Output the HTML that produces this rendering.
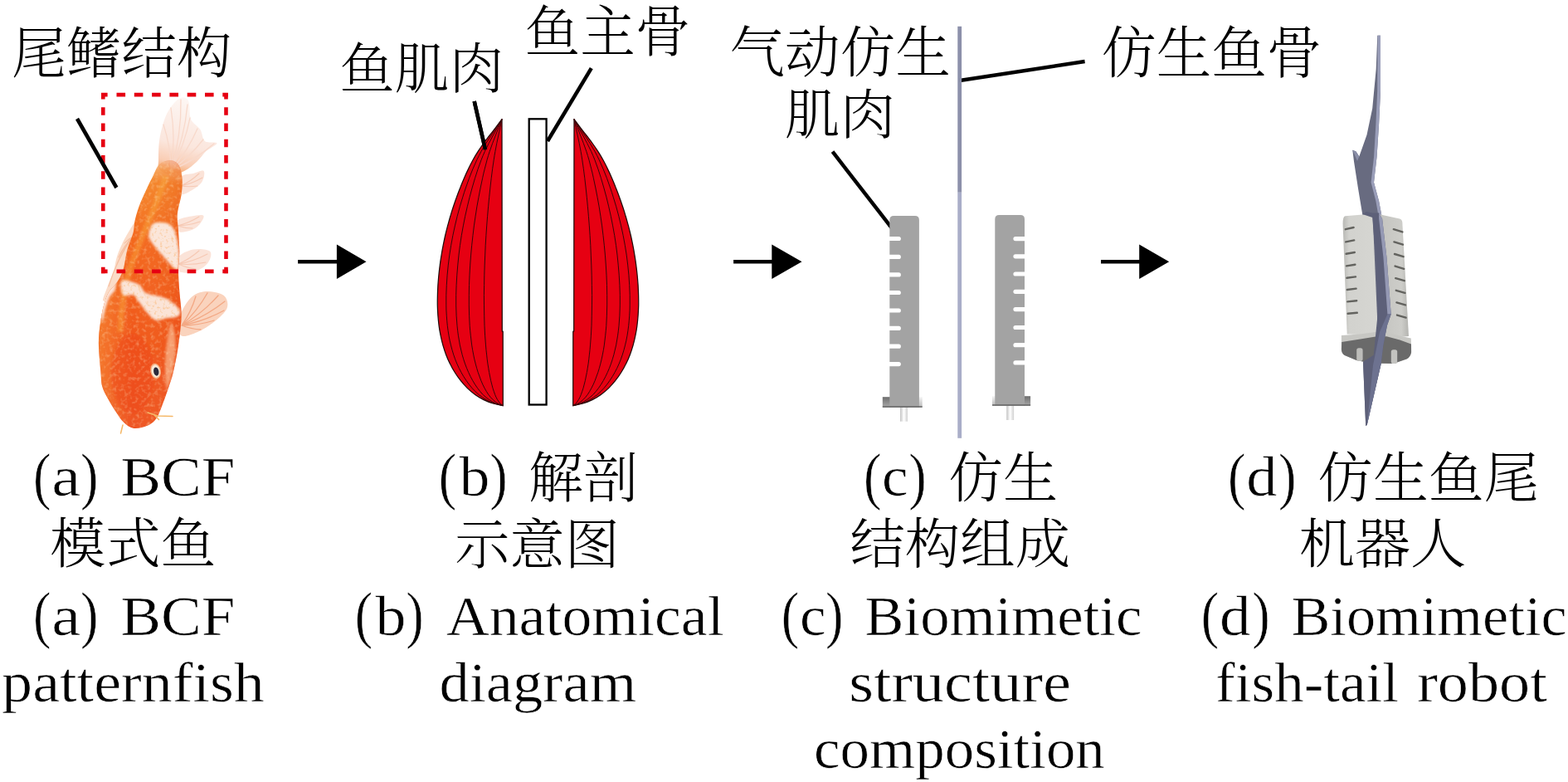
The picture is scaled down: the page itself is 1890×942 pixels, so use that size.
<!DOCTYPE html>
<html lang="zh">
<head>
<meta charset="utf-8">
<title>BCF 模式鱼 — 仿生鱼尾机器人</title>
<style>
html,body{margin:0;padding:0;background:#fff;}
body{width:1890px;height:942px;overflow:hidden;}
svg{display:block;}
text{font-family:"Liberation Serif","Noto Serif CJK SC",serif;fill:#000;}
</style>
</head>
<body>
<svg width="1890" height="942" viewBox="0 0 1890 942">
<rect width="1890" height="942" fill="#fff"/>
<g id="arrows" fill="#000">
<path d="M359.1 312.9H405.9V294.6L441.5 315.2L405.9 335.9V317.5H359.1Z"/>
<path d="M884.1 312.9H930.3V294.6L966.5 315.2L930.3 335.9V317.5H884.1Z"/>
<path d="M1327 312.9H1373.2V294.6L1409.2 315.2L1373.2 335.9V317.5H1327Z"/>
</g>
<g id="fish"><defs><linearGradient id="fbody" gradientUnits="userSpaceOnUse" x1="206" y1="195" x2="165" y2="515"><stop offset="0" stop-color="#f9c08a" stop-opacity="0.35"/><stop offset="0.035" stop-color="#f7a555" stop-opacity="0.9"/><stop offset="0.08" stop-color="#f58a2e"/><stop offset="0.3" stop-color="#f3681f"/><stop offset="0.7" stop-color="#f0561d"/><stop offset="1" stop-color="#ee5424"/></linearGradient><linearGradient id="fside" gradientUnits="userSpaceOnUse" x1="120" y1="0" x2="220" y2="0"><stop offset="0" stop-color="#f9a040" stop-opacity="0.45"/><stop offset="0.4" stop-color="#f9a040" stop-opacity="0"/><stop offset="1" stop-color="#e23c14" stop-opacity="0.3"/></linearGradient><linearGradient id="ftail" gradientUnits="userSpaceOnUse" x1="225" y1="120" x2="203" y2="208"><stop offset="0" stop-color="#fdf6f3"/><stop offset="0.6" stop-color="#fbe6dd"/><stop offset="0.85" stop-color="#f9cdb4"/><stop offset="1" stop-color="#f6a566"/></linearGradient><filter id="fsoft" x="-10%" y="-10%" width="120%" height="120%"><feGaussianBlur stdDeviation="0.7"/></filter><filter id="fsoft2" x="-20%" y="-20%" width="140%" height="140%"><feGaussianBlur stdDeviation="1.4"/></filter><filter id="fscale" x="0" y="0" width="100%" height="100%"><feTurbulence type="fractalNoise" baseFrequency="0.22" numOctaves="2" seed="7" result="n"/><feColorMatrix in="n" type="matrix" values="0 0 0 0 1  0 0 0 0 0.82  0 0 0 0 0.55  0 0 0 2.6 -1.25"/></filter><filter id="fspeck" x="0" y="0" width="100%" height="100%"><feTurbulence type="fractalNoise" baseFrequency="0.3" numOctaves="2" seed="3" result="n"/><feColorMatrix in="n" type="matrix" values="0 0 0 0 0.95  0 0 0 0 0.45  0 0 0 0 0.15  0 0 0 3 -1.6"/><feComposite in2="SourceGraphic" operator="in"/></filter><clipPath id="fclip"><path d="M205.0,193.0 C201.2,193.0 195.5,194.7 192.0,198.0 C188.5,201.3 186.5,208.1 184.0,213.0 C181.5,217.9 179.5,221.6 176.8,227.4 C174.1,233.2 170.3,241.4 167.9,247.8 C165.5,254.2 163.7,260.6 162.5,266.0 C161.3,271.4 162.0,274.7 160.5,280.5 C159.0,286.3 155.4,293.3 153.4,300.7 C151.4,308.1 150.5,318.3 148.4,324.9 C146.3,331.4 143.9,335.5 141.0,340.0 C138.1,344.5 133.7,347.3 131.0,352.0 C128.3,356.7 126.7,361.7 125.0,368.0 C123.3,374.3 121.8,382.3 120.8,390.0 C119.8,397.7 118.8,404.3 118.9,414.0 C119.0,423.7 120.7,439.5 121.4,448.0 C122.1,456.5 121.8,459.9 123.1,465.0 C124.4,470.1 126.4,473.4 129.1,478.5 C131.8,483.6 135.9,490.4 139.3,495.5 C142.7,500.6 145.7,505.7 149.4,509.1 C153.1,512.5 156.5,515.3 161.3,515.9 C166.1,516.5 173.8,514.5 178.3,512.5 C182.8,510.5 185.7,508.0 188.5,504.0 C191.3,500.0 192.8,495.2 195.3,488.7 C197.9,482.2 201.5,471.8 203.8,465.0 C206.1,458.2 207.2,455.1 208.9,448.0 C210.6,440.9 212.6,431.0 214.0,422.5 C215.4,414.0 216.6,404.7 217.4,397.0 C218.2,389.3 218.8,384.1 218.6,376.4 C218.4,368.7 216.9,359.5 216.3,351.0 C215.7,342.5 215.0,333.4 215.0,325.5 C215.0,317.6 216.3,311.7 216.3,303.8 C216.3,295.9 215.4,285.9 215.0,278.3 C214.6,270.7 213.2,265.6 213.8,258.0 C214.5,250.4 218.0,240.2 218.9,232.5 C219.8,224.8 220.0,217.8 219.3,212.0 C218.7,206.2 217.4,201.2 215.0,198.0 C212.6,194.8 208.8,193.0 205.0,193.0Z"/></clipPath></defs><g filter="url(#fsoft)"><path d="M191.0,193.3 C191.1,187.2 190.9,176.1 192.4,167.1 C193.9,158.1 196.7,147.1 200.0,139.5 C203.3,131.9 208.7,125.3 212.4,121.6 C216.1,117.9 219.6,117.2 222.1,117.4 C224.6,117.6 226.4,119.2 227.6,122.9 C228.8,126.6 228.3,135.6 229.0,139.5 C229.7,143.4 229.7,143.6 231.8,146.4 C233.9,149.2 238.9,152.2 241.4,156.1 C243.9,160.0 243.6,167.2 246.9,169.9 C250.2,172.7 261.2,170.5 261.4,172.6 C261.6,174.7 252.3,178.6 248.3,182.3 C244.3,186.0 241.7,190.8 237.3,194.7 C232.9,198.6 227.5,203.4 222.1,206.0 C216.7,208.6 210.0,210.3 205.0,210.0 C200.0,209.7 194.3,206.8 192.0,204.0 C189.7,201.2 190.9,199.5 191.0,193.3Z" fill="url(#ftail)"/><path d="M206.0,205.0Q205.9,176.8 197.0,150.0M206.0,205.0Q212.0,167.5 206.0,130.0M206.0,205.0Q218.8,163.5 218.0,120.0M206.0,205.0Q222.3,167.1 226.0,126.0M206.0,205.0Q222.5,175.3 229.0,142.0M206.0,205.0Q226.0,182.6 238.0,155.0M206.0,205.0Q228.5,189.6 245.0,168.0M206.0,205.0Q234.6,193.2 258.0,173.0M206.0,205.0Q226.7,197.5 244.0,184.0" fill="none" stroke="#f8d9cb" stroke-width="1.3" stroke-linecap="round"/><path d="M219.0,213.0 C221.6,209.0 228.6,210.2 233.0,209.0 C237.4,207.8 243.9,204.2 245.6,206.0 C247.3,207.8 245.9,215.5 243.0,219.7 C240.1,223.9 232.2,228.8 228.0,231.0 C223.8,233.2 219.0,236.0 217.5,233.0 C216.0,230.0 216.4,217.0 219.0,213.0Z" fill="#fbe3d8"/><path d="M218.0,224.0Q230.2,218.3 240.0,209.0M218.0,224.0Q231.8,221.1 244.0,214.0M218.0,224.0Q228.0,225.6 238.0,224.0" fill="none" stroke="#f6c9b4" stroke-width="1.1" stroke-linecap="round"/><path d="M214.0,265.6 C216.9,262.7 225.8,261.4 231.0,260.5 C236.2,259.6 244.2,257.9 245.4,260.0 C246.6,262.1 241.6,269.8 238.0,273.0 C234.4,276.2 228.1,278.2 224.0,279.0 C219.9,279.8 215.2,280.2 213.5,278.0 C211.8,275.8 211.1,268.5 214.0,265.6Z" fill="#fbe3d8"/><path d="M214.0,272.0Q227.9,268.6 240.0,261.0M214.0,272.0Q227.9,271.7 241.0,267.0M214.0,272.0Q222.8,274.9 232.0,275.0" fill="none" stroke="#f6c9b4" stroke-width="1.1" stroke-linecap="round"/><path d="M214.5,310.0 C217.6,305.8 226.4,301.7 232.9,300.5 C239.4,299.3 250.5,300.1 253.3,303.0 C256.1,305.9 253.1,313.8 249.5,318.0 C245.9,322.2 237.8,326.7 232.0,328.0 C226.2,329.3 217.4,329.0 214.5,326.0 C211.6,323.0 211.4,314.2 214.5,310.0Z" fill="#fbe3d8"/><path d="M215.0,318.0Q228.8,312.0 240.0,302.0M215.0,318.0Q233.5,314.8 250.0,306.0M215.0,318.0Q231.7,319.6 248.0,316.0M215.0,318.0Q225.0,322.7 236.0,324.0" fill="none" stroke="#f6c9b4" stroke-width="1.1" stroke-linecap="round"/><path d="M217.0,381.0 C219.1,373.4 225.1,363.6 230.3,358.6 C235.5,353.6 241.6,351.4 248.2,351.0 C254.8,350.6 265.6,352.6 269.8,356.0 C274.0,359.4 275.5,366.0 273.6,371.3 C271.7,376.6 264.2,382.8 258.3,387.6 C252.4,392.4 244.7,397.3 238.0,400.0 C231.3,402.7 221.5,407.2 218.0,404.0 C214.5,400.8 214.9,388.6 217.0,381.0Z" fill="#fad3bd"/><path d="M219.0,392.0Q230.3,375.9 236.0,357.0M219.0,392.0Q237.6,375.0 250.0,353.0M219.0,392.0Q243.9,377.5 263.0,356.0M219.0,392.0Q247.3,381.7 271.0,363.0M219.0,392.0Q245.9,387.1 270.0,374.0M219.0,392.0Q239.0,392.1 258.0,386.0M219.0,392.0Q230.1,396.3 242.0,397.0" fill="none" stroke="#f3a884" stroke-width="1.3" stroke-linecap="round"/><path d="M163.0,268.0 C161.8,267.7 159.5,272.0 157.0,276.0 C154.5,280.0 150.7,286.5 148.0,292.0 C145.3,297.5 142.8,303.5 141.0,309.0 C139.2,314.5 139.1,319.1 137.3,324.9 C135.5,330.7 132.2,337.8 130.0,344.0 C127.8,350.2 123.5,360.0 124.0,362.0 C124.5,364.0 129.3,360.0 133.0,356.0 C136.7,352.0 142.8,344.0 146.0,338.0 C149.2,332.0 150.0,326.7 152.0,320.0 C154.0,313.3 156.0,305.0 158.0,298.0 C160.0,291.0 163.2,283.0 164.0,278.0 C164.8,273.0 164.2,268.3 163.0,268.0Z" fill="#fbdcc8"/><path d="M160.0,285.0Q154.4,288.2 150.0,293.0M160.0,285.0Q149.5,296.1 143.0,310.0M160.0,285.0Q145.7,303.7 138.0,326.0M160.0,285.0Q140.7,312.7 131.0,345.0" fill="none" stroke="#f5bfa0" stroke-width="1.1" stroke-linecap="round"/><path d="M205.0,193.0 C201.2,193.0 195.5,194.7 192.0,198.0 C188.5,201.3 186.5,208.1 184.0,213.0 C181.5,217.9 179.5,221.6 176.8,227.4 C174.1,233.2 170.3,241.4 167.9,247.8 C165.5,254.2 163.7,260.6 162.5,266.0 C161.3,271.4 162.0,274.7 160.5,280.5 C159.0,286.3 155.4,293.3 153.4,300.7 C151.4,308.1 150.5,318.3 148.4,324.9 C146.3,331.4 143.9,335.5 141.0,340.0 C138.1,344.5 133.7,347.3 131.0,352.0 C128.3,356.7 126.7,361.7 125.0,368.0 C123.3,374.3 121.8,382.3 120.8,390.0 C119.8,397.7 118.8,404.3 118.9,414.0 C119.0,423.7 120.7,439.5 121.4,448.0 C122.1,456.5 121.8,459.9 123.1,465.0 C124.4,470.1 126.4,473.4 129.1,478.5 C131.8,483.6 135.9,490.4 139.3,495.5 C142.7,500.6 145.7,505.7 149.4,509.1 C153.1,512.5 156.5,515.3 161.3,515.9 C166.1,516.5 173.8,514.5 178.3,512.5 C182.8,510.5 185.7,508.0 188.5,504.0 C191.3,500.0 192.8,495.2 195.3,488.7 C197.9,482.2 201.5,471.8 203.8,465.0 C206.1,458.2 207.2,455.1 208.9,448.0 C210.6,440.9 212.6,431.0 214.0,422.5 C215.4,414.0 216.6,404.7 217.4,397.0 C218.2,389.3 218.8,384.1 218.6,376.4 C218.4,368.7 216.9,359.5 216.3,351.0 C215.7,342.5 215.0,333.4 215.0,325.5 C215.0,317.6 216.3,311.7 216.3,303.8 C216.3,295.9 215.4,285.9 215.0,278.3 C214.6,270.7 213.2,265.6 213.8,258.0 C214.5,250.4 218.0,240.2 218.9,232.5 C219.8,224.8 220.0,217.8 219.3,212.0 C218.7,206.2 217.4,201.2 215.0,198.0 C212.6,194.8 208.8,193.0 205.0,193.0Z" fill="url(#fbody)"/><path d="M205.0,193.0 C201.2,193.0 195.5,194.7 192.0,198.0 C188.5,201.3 186.5,208.1 184.0,213.0 C181.5,217.9 179.5,221.6 176.8,227.4 C174.1,233.2 170.3,241.4 167.9,247.8 C165.5,254.2 163.7,260.6 162.5,266.0 C161.3,271.4 162.0,274.7 160.5,280.5 C159.0,286.3 155.4,293.3 153.4,300.7 C151.4,308.1 150.5,318.3 148.4,324.9 C146.3,331.4 143.9,335.5 141.0,340.0 C138.1,344.5 133.7,347.3 131.0,352.0 C128.3,356.7 126.7,361.7 125.0,368.0 C123.3,374.3 121.8,382.3 120.8,390.0 C119.8,397.7 118.8,404.3 118.9,414.0 C119.0,423.7 120.7,439.5 121.4,448.0 C122.1,456.5 121.8,459.9 123.1,465.0 C124.4,470.1 126.4,473.4 129.1,478.5 C131.8,483.6 135.9,490.4 139.3,495.5 C142.7,500.6 145.7,505.7 149.4,509.1 C153.1,512.5 156.5,515.3 161.3,515.9 C166.1,516.5 173.8,514.5 178.3,512.5 C182.8,510.5 185.7,508.0 188.5,504.0 C191.3,500.0 192.8,495.2 195.3,488.7 C197.9,482.2 201.5,471.8 203.8,465.0 C206.1,458.2 207.2,455.1 208.9,448.0 C210.6,440.9 212.6,431.0 214.0,422.5 C215.4,414.0 216.6,404.7 217.4,397.0 C218.2,389.3 218.8,384.1 218.6,376.4 C218.4,368.7 216.9,359.5 216.3,351.0 C215.7,342.5 215.0,333.4 215.0,325.5 C215.0,317.6 216.3,311.7 216.3,303.8 C216.3,295.9 215.4,285.9 215.0,278.3 C214.6,270.7 213.2,265.6 213.8,258.0 C214.5,250.4 218.0,240.2 218.9,232.5 C219.8,224.8 220.0,217.8 219.3,212.0 C218.7,206.2 217.4,201.2 215.0,198.0 C212.6,194.8 208.8,193.0 205.0,193.0Z" fill="url(#fside)"/></g><g clip-path="url(#fclip)"><g filter="url(#fsoft2)"><ellipse cx="160" cy="450" rx="26" ry="48" fill="#ed4818" opacity="0.45"/><path d="M200,212 C188,250 170,285 158,320 C150,345 146,372 145,400" fill="none" stroke="#fbb040" stroke-width="7" opacity="0.4"/><path d="M206,388 C215,402 213,440 201,470 C197,450 199,412 206,388Z" fill="#f9b48a" opacity="0.75"/></g><rect x="115" y="190" width="110" height="335" filter="url(#fscale)" opacity="0.32"/><g filter="url(#fsoft2)"><path d="M186.7,268.4 C190.7,267.4 200.5,267.4 204.9,270.4 C209.3,273.4 211.2,279.9 213.0,286.6 C214.8,293.3 216.0,304.4 216.0,310.8 C216.0,317.2 216.2,325.2 213.0,324.9 C209.8,324.5 202.2,314.8 196.8,308.7 C191.4,302.6 183.4,294.0 180.7,288.6 C178.0,283.2 179.7,279.9 180.7,276.5 C181.7,273.1 182.7,269.4 186.7,268.4Z" fill="#fbe6da"/><path d="M148.2,337.5 C151.8,336.9 162.6,340.1 167.3,342.7 C172.0,345.3 170.9,350.1 176.2,352.9 C181.5,355.7 192.6,356.1 199.2,359.3 C205.8,362.5 213.1,368.4 215.7,372.0 C218.2,375.6 217.2,379.1 214.5,381.0 C211.8,382.9 203.4,382.7 199.2,383.5 C194.9,384.3 192.0,386.4 189.0,386.0 C186.0,385.6 183.9,383.3 181.3,381.0 C178.8,378.7 176.2,375.2 173.7,372.0 C171.1,368.8 168.1,364.6 166.0,361.8 C163.9,359.1 163.8,356.6 161.0,355.5 C158.2,354.4 151.6,357.1 149.0,355.5 C146.4,353.9 145.8,349.0 145.7,346.0 C145.6,343.0 144.6,338.1 148.2,337.5Z" fill="#fbe4d7"/><path d="M131.0,333.0 C133.1,332.2 138.3,335.2 139.5,338.0 C140.7,340.8 139.2,346.7 138.0,350.0 C136.8,353.3 133.8,354.3 132.0,358.0 C130.2,361.7 128.4,367.0 127.0,372.0 C125.6,377.0 124.3,387.3 123.5,388.0 C122.7,388.7 121.8,381.3 122.0,376.0 C122.2,370.7 123.7,361.5 124.5,356.0 C125.3,350.5 125.9,346.8 127.0,343.0 C128.1,339.2 128.9,333.8 131.0,333.0Z" fill="#fbe3d8"/></g><g filter="url(#fspeck)" opacity="0.6"><path d="M186.7,268.4 C190.7,267.4 200.5,267.4 204.9,270.4 C209.3,273.4 211.2,279.9 213.0,286.6 C214.8,293.3 216.0,304.4 216.0,310.8 C216.0,317.2 216.2,325.2 213.0,324.9 C209.8,324.5 202.2,314.8 196.8,308.7 C191.4,302.6 183.4,294.0 180.7,288.6 C178.0,283.2 179.7,279.9 180.7,276.5 C181.7,273.1 182.7,269.4 186.7,268.4Z"/><path d="M148.2,337.5 C151.8,336.9 162.6,340.1 167.3,342.7 C172.0,345.3 170.9,350.1 176.2,352.9 C181.5,355.7 192.6,356.1 199.2,359.3 C205.8,362.5 213.1,368.4 215.7,372.0 C218.2,375.6 217.2,379.1 214.5,381.0 C211.8,382.9 203.4,382.7 199.2,383.5 C194.9,384.3 192.0,386.4 189.0,386.0 C186.0,385.6 183.9,383.3 181.3,381.0 C178.8,378.7 176.2,375.2 173.7,372.0 C171.1,368.8 168.1,364.6 166.0,361.8 C163.9,359.1 163.8,356.6 161.0,355.5 C158.2,354.4 151.6,357.1 149.0,355.5 C146.4,353.9 145.8,349.0 145.7,346.0 C145.6,343.0 144.6,338.1 148.2,337.5Z"/></g></g><ellipse cx="187.6" cy="447" rx="6.3" ry="9.4" fill="#f5b083" transform="rotate(-10 187.6 447)"/><ellipse cx="187.6" cy="447" rx="5" ry="7.7" fill="#f7ead8" transform="rotate(-10 187.6 447)"/><ellipse cx="188.3" cy="447.6" rx="3.1" ry="5.2" fill="#2a2a3a" transform="rotate(-10 188.3 447.6)"/><circle cx="145" cy="384" r="1.2" fill="#4a4a4a" opacity="0"/><path d="M178,497 L190,501 L208,501.5 M186,500 L191.5,505.5 M148,512 L145.5,522" fill="none" stroke="#f5b868" stroke-width="1.5" stroke-linecap="round"/></g>
<g id="tail-box" fill="none" stroke="#e60012" stroke-width="4.6">
<path d="M122,114.1H274.9" stroke-dasharray="7.6 10.9 10.6 10.7 10.6 10.7 10.6 10.7 10.6 10.7 10.6 10.7 10.6 10.7 20"/>
<path d="M122,326.9H274.9" stroke-dasharray="7.6 10.9 10.6 10.7 10.6 10.7 10.6 10.7 10.6 10.7 10.6 10.7 10.6 10.7 20"/>
<path d="M124.3,112V329.2" stroke-dasharray="7.5 9.8 9.5 9.75 9.5 9.75 9.5 9.75 9.5 9.75 9.5 9.75 9.5 9.75 9.5 9.75 9.5 9.75 9.5 9.75 9.5 9.75 20"/>
<path d="M272.5,112V329.2" stroke-dasharray="7.5 9.8 9.5 9.75 9.5 9.75 9.5 9.75 9.5 9.75 9.5 9.75 9.5 9.75 9.5 9.75 9.5 9.75 9.5 9.75 9.5 9.75 20"/>
</g>
<line id="leader-a" x1="93" y1="143" x2="140.4" y2="226" stroke="#000" stroke-width="4.6"/>
<g id="muscle"><line x1="571.7" y1="122" x2="585" y2="180.3" stroke="#000" stroke-width="4.5"/><g id="muscle-left"><path d="M605.0,143.6 C603.8,145.2 600.1,150.2 597.7,153.4 C595.2,156.7 592.7,159.8 590.2,163.0 C587.8,166.2 585.3,169.3 583.0,172.5 C580.6,175.8 578.3,179.0 576.2,182.4 C574.0,185.8 572.0,189.2 570.0,192.8 C568.1,196.3 566.2,199.9 564.5,203.6 C562.7,207.2 561.0,211.0 559.4,214.7 C557.8,218.4 556.2,222.2 554.8,226.0 C553.3,229.7 551.8,233.5 550.5,237.3 C549.1,241.1 547.8,244.9 546.5,248.8 C545.2,252.6 544.0,256.4 542.9,260.3 C541.7,264.1 540.7,268.0 539.6,271.9 C538.6,275.7 537.6,279.6 536.7,283.5 C535.8,287.4 535.0,291.4 534.2,295.3 C533.4,299.2 532.7,303.2 532.1,307.1 C531.4,311.1 530.8,315.1 530.3,319.1 C529.8,323.1 529.3,327.1 528.9,331.2 C528.5,335.2 528.2,339.3 527.9,343.4 C527.7,347.4 527.5,351.5 527.4,355.6 C527.3,359.7 527.2,363.8 527.3,367.9 C527.4,372.0 527.6,376.1 527.9,380.2 C528.2,384.2 528.6,388.3 529.1,392.3 C529.6,396.3 530.3,400.3 531.1,404.2 C531.9,408.2 532.8,412.1 533.9,415.9 C535.0,419.7 536.2,423.5 537.6,427.2 C539.0,430.9 540.6,434.6 542.4,438.1 C544.1,441.7 546.0,445.2 548.2,448.5 C550.3,451.9 552.6,455.2 555.2,458.4 C557.7,461.6 560.5,464.7 563.4,467.6 C566.3,470.4 569.5,473.1 572.8,475.5 C576.0,477.8 579.5,479.9 583.1,481.6 C586.7,483.4 590.5,484.8 594.3,486.0 C598.2,487.1 604.3,488.2 606.3,488.6 L606.2,399.2 L605.3,399.2 L605.0,143.6 Z" fill="#e60012" stroke="#1e0a0a" stroke-width="1.25" stroke-linejoin="round"/><path d="M605.0,143.6 C603.9,145.2 600.8,150.2 598.7,153.4 C596.5,156.7 594.3,159.8 592.2,163.0 C590.1,166.2 587.9,169.3 585.9,172.5 C583.9,175.8 581.9,179.0 580.0,182.4 C578.2,185.8 576.4,189.2 574.7,192.8 C573.0,196.3 571.4,199.9 569.9,203.6 C568.4,207.2 566.9,211.0 565.5,214.7 C564.1,218.4 562.8,222.2 561.5,226.0 C560.2,229.7 558.9,233.5 557.8,237.3 C556.6,241.1 555.4,244.9 554.3,248.8 C553.2,252.6 552.2,256.4 551.2,260.3 C550.2,264.1 549.3,268.0 548.4,271.9 C547.5,275.7 546.7,279.6 545.9,283.5 C545.1,287.4 544.4,291.4 543.7,295.3 C543.0,299.2 542.4,303.2 541.8,307.1 C541.3,311.1 540.8,315.1 540.3,319.1 C539.9,323.1 539.5,327.1 539.1,331.2 C538.8,335.2 538.5,339.3 538.3,343.4 C538.1,347.4 537.9,351.5 537.8,355.6 C537.7,359.7 537.7,363.8 537.8,367.9 C537.8,372.0 538.0,376.1 538.3,380.2 C538.5,384.2 538.9,388.3 539.3,392.3 C539.8,396.3 540.3,400.3 541.0,404.2 C541.7,408.2 542.5,412.1 543.5,415.9 C544.4,419.7 545.5,423.5 546.7,427.2 C547.9,430.9 549.3,434.6 550.8,438.1 C552.4,441.7 554.0,445.2 555.9,448.5 C557.7,451.9 559.8,455.2 562.0,458.4 C564.2,461.6 566.5,464.7 569.1,467.6 C571.6,470.4 574.4,473.1 577.2,475.5 C580.1,477.8 583.1,479.9 586.2,481.6 C589.3,483.4 592.6,484.8 595.9,486.0 C599.3,487.1 604.6,488.2 606.3,488.6" fill="none" stroke="#3a0508" stroke-width="1.0"/><path d="M605.0,143.6 C604.1,145.2 601.5,150.2 599.8,153.4 C598.0,156.7 596.2,159.8 594.4,163.0 C592.7,166.2 590.9,169.3 589.3,172.5 C587.6,175.8 586.0,179.0 584.4,182.4 C582.9,185.8 581.4,189.2 580.0,192.8 C578.7,196.3 577.3,199.9 576.1,203.6 C574.8,207.2 573.6,211.0 572.5,214.7 C571.3,218.4 570.2,222.2 569.2,226.0 C568.1,229.7 567.1,233.5 566.1,237.3 C565.1,241.1 564.2,244.9 563.3,248.8 C562.4,252.6 561.5,256.4 560.7,260.3 C559.9,264.1 559.1,268.0 558.4,271.9 C557.7,275.7 557.0,279.6 556.3,283.5 C555.7,287.4 555.1,291.4 554.5,295.3 C554.0,299.2 553.5,303.2 553.0,307.1 C552.6,311.1 552.1,315.1 551.8,319.1 C551.4,323.1 551.1,327.1 550.8,331.2 C550.5,335.2 550.3,339.3 550.1,343.4 C549.9,347.4 549.8,351.5 549.7,355.6 C549.7,359.7 549.6,363.8 549.7,367.9 C549.8,372.0 549.9,376.1 550.1,380.2 C550.3,384.2 550.6,388.3 551.0,392.3 C551.4,396.3 551.8,400.3 552.4,404.2 C553.0,408.2 553.7,412.1 554.4,415.9 C555.2,419.7 556.1,423.5 557.1,427.2 C558.1,430.9 559.3,434.6 560.5,438.1 C561.8,441.7 563.2,445.2 564.7,448.5 C566.2,451.9 567.9,455.2 569.7,458.4 C571.5,461.6 573.5,464.7 575.6,467.6 C577.7,470.4 579.9,473.1 582.3,475.5 C584.7,477.8 587.1,479.9 589.7,481.6 C592.3,483.4 595.0,484.8 597.7,486.0 C600.5,487.1 604.9,488.2 606.3,488.6" fill="none" stroke="#3a0508" stroke-width="1.0"/><path d="M605.0,143.6 C604.4,145.2 602.5,150.2 601.2,153.4 C600.0,156.7 598.7,159.8 597.4,163.0 C596.1,166.2 594.9,169.3 593.7,172.5 C592.5,175.8 591.3,179.0 590.2,182.4 C589.1,185.8 588.0,189.2 587.0,192.8 C586.0,196.3 585.1,199.9 584.2,203.6 C583.2,207.2 582.4,211.0 581.6,214.7 C580.7,218.4 579.9,222.2 579.2,226.0 C578.4,229.7 577.7,233.5 577.0,237.3 C576.3,241.1 575.6,244.9 574.9,248.8 C574.3,252.6 573.7,256.4 573.1,260.3 C572.5,264.1 572.0,268.0 571.4,271.9 C570.9,275.7 570.4,279.6 570.0,283.5 C569.5,287.4 569.1,291.4 568.7,295.3 C568.3,299.2 567.9,303.2 567.6,307.1 C567.3,311.1 567.0,315.1 566.7,319.1 C566.4,323.1 566.2,327.1 566.0,331.2 C565.8,335.2 565.6,339.3 565.5,343.4 C565.4,347.4 565.3,351.5 565.3,355.6 C565.2,359.7 565.2,363.8 565.3,367.9 C565.3,372.0 565.4,376.1 565.6,380.2 C565.7,384.2 565.9,388.3 566.2,392.3 C566.5,396.3 566.8,400.3 567.3,404.2 C567.7,408.2 568.2,412.1 568.7,415.9 C569.3,419.7 569.9,423.5 570.7,427.2 C571.4,430.9 572.2,434.6 573.2,438.1 C574.1,441.7 575.1,445.2 576.2,448.5 C577.3,451.9 578.5,455.2 579.8,458.4 C581.1,461.6 582.6,464.7 584.1,467.6 C585.6,470.4 587.2,473.1 588.9,475.5 C590.6,477.8 592.4,479.9 594.3,481.6 C596.2,483.4 598.1,484.8 600.1,486.0 C602.1,487.1 605.3,488.2 606.3,488.6" fill="none" stroke="#3a0508" stroke-width="1.0"/><path d="M605.0,143.6 C604.7,145.2 603.6,150.2 602.9,153.4 C602.2,156.7 601.5,159.8 600.8,163.0 C600.1,166.2 599.5,169.3 598.8,172.5 C598.1,175.8 597.5,179.0 596.9,182.4 C596.3,185.8 595.7,189.2 595.2,192.8 C594.6,196.3 594.1,199.9 593.6,203.6 C593.1,207.2 592.6,211.0 592.2,214.7 C591.7,218.4 591.3,222.2 590.9,226.0 C590.5,229.7 590.1,233.5 589.7,237.3 C589.3,241.1 589.0,244.9 588.6,248.8 C588.3,252.6 587.9,256.4 587.6,260.3 C587.3,264.1 587.0,268.0 586.7,271.9 C586.4,275.7 586.2,279.6 585.9,283.5 C585.7,287.4 585.4,291.4 585.2,295.3 C585.0,299.2 584.8,303.2 584.7,307.1 C584.5,311.1 584.3,315.1 584.2,319.1 C584.0,323.1 583.9,327.1 583.8,331.2 C583.7,335.2 583.6,339.3 583.6,343.4 C583.5,347.4 583.5,351.5 583.4,355.6 C583.4,359.7 583.4,363.8 583.5,367.9 C583.5,372.0 583.6,376.1 583.7,380.2 C583.8,384.2 583.9,388.3 584.0,392.3 C584.2,396.3 584.4,400.3 584.6,404.2 C584.9,408.2 585.1,412.1 585.5,415.9 C585.8,419.7 586.1,423.5 586.6,427.2 C587.0,430.9 587.4,434.6 587.9,438.1 C588.5,441.7 589.0,445.2 589.6,448.5 C590.2,451.9 590.9,455.2 591.6,458.4 C592.4,461.6 593.2,464.7 594.0,467.6 C594.9,470.4 595.8,473.1 596.7,475.5 C597.6,477.8 598.6,479.9 599.7,481.6 C600.7,483.4 601.8,484.8 602.9,486.0 C604.0,487.1 605.7,488.2 606.3,488.6" fill="none" stroke="#3a0508" stroke-width="1.0"/></g><g transform="translate(1297,0) scale(-1,1)"><g id="muscle-right"><path d="M605.0,143.6 C603.8,145.2 600.1,150.2 597.7,153.4 C595.2,156.7 592.7,159.8 590.2,163.0 C587.8,166.2 585.3,169.3 583.0,172.5 C580.6,175.8 578.3,179.0 576.2,182.4 C574.0,185.8 572.0,189.2 570.0,192.8 C568.1,196.3 566.2,199.9 564.5,203.6 C562.7,207.2 561.0,211.0 559.4,214.7 C557.8,218.4 556.2,222.2 554.8,226.0 C553.3,229.7 551.8,233.5 550.5,237.3 C549.1,241.1 547.8,244.9 546.5,248.8 C545.2,252.6 544.0,256.4 542.9,260.3 C541.7,264.1 540.7,268.0 539.6,271.9 C538.6,275.7 537.6,279.6 536.7,283.5 C535.8,287.4 535.0,291.4 534.2,295.3 C533.4,299.2 532.7,303.2 532.1,307.1 C531.4,311.1 530.8,315.1 530.3,319.1 C529.8,323.1 529.3,327.1 528.9,331.2 C528.5,335.2 528.2,339.3 527.9,343.4 C527.7,347.4 527.5,351.5 527.4,355.6 C527.3,359.7 527.2,363.8 527.3,367.9 C527.4,372.0 527.6,376.1 527.9,380.2 C528.2,384.2 528.6,388.3 529.1,392.3 C529.6,396.3 530.3,400.3 531.1,404.2 C531.9,408.2 532.8,412.1 533.9,415.9 C535.0,419.7 536.2,423.5 537.6,427.2 C539.0,430.9 540.6,434.6 542.4,438.1 C544.1,441.7 546.0,445.2 548.2,448.5 C550.3,451.9 552.6,455.2 555.2,458.4 C557.7,461.6 560.5,464.7 563.4,467.6 C566.3,470.4 569.5,473.1 572.8,475.5 C576.0,477.8 579.5,479.9 583.1,481.6 C586.7,483.4 590.5,484.8 594.3,486.0 C598.2,487.1 604.3,488.2 606.3,488.6 L606.2,399.2 L605.3,399.2 L605.0,143.6 Z" fill="#e60012" stroke="#1e0a0a" stroke-width="1.25" stroke-linejoin="round"/><path d="M605.0,143.6 C603.9,145.2 600.8,150.2 598.7,153.4 C596.5,156.7 594.3,159.8 592.2,163.0 C590.1,166.2 587.9,169.3 585.9,172.5 C583.9,175.8 581.9,179.0 580.0,182.4 C578.2,185.8 576.4,189.2 574.7,192.8 C573.0,196.3 571.4,199.9 569.9,203.6 C568.4,207.2 566.9,211.0 565.5,214.7 C564.1,218.4 562.8,222.2 561.5,226.0 C560.2,229.7 558.9,233.5 557.8,237.3 C556.6,241.1 555.4,244.9 554.3,248.8 C553.2,252.6 552.2,256.4 551.2,260.3 C550.2,264.1 549.3,268.0 548.4,271.9 C547.5,275.7 546.7,279.6 545.9,283.5 C545.1,287.4 544.4,291.4 543.7,295.3 C543.0,299.2 542.4,303.2 541.8,307.1 C541.3,311.1 540.8,315.1 540.3,319.1 C539.9,323.1 539.5,327.1 539.1,331.2 C538.8,335.2 538.5,339.3 538.3,343.4 C538.1,347.4 537.9,351.5 537.8,355.6 C537.7,359.7 537.7,363.8 537.8,367.9 C537.8,372.0 538.0,376.1 538.3,380.2 C538.5,384.2 538.9,388.3 539.3,392.3 C539.8,396.3 540.3,400.3 541.0,404.2 C541.7,408.2 542.5,412.1 543.5,415.9 C544.4,419.7 545.5,423.5 546.7,427.2 C547.9,430.9 549.3,434.6 550.8,438.1 C552.4,441.7 554.0,445.2 555.9,448.5 C557.7,451.9 559.8,455.2 562.0,458.4 C564.2,461.6 566.5,464.7 569.1,467.6 C571.6,470.4 574.4,473.1 577.2,475.5 C580.1,477.8 583.1,479.9 586.2,481.6 C589.3,483.4 592.6,484.8 595.9,486.0 C599.3,487.1 604.6,488.2 606.3,488.6" fill="none" stroke="#3a0508" stroke-width="1.0"/><path d="M605.0,143.6 C604.1,145.2 601.5,150.2 599.8,153.4 C598.0,156.7 596.2,159.8 594.4,163.0 C592.7,166.2 590.9,169.3 589.3,172.5 C587.6,175.8 586.0,179.0 584.4,182.4 C582.9,185.8 581.4,189.2 580.0,192.8 C578.7,196.3 577.3,199.9 576.1,203.6 C574.8,207.2 573.6,211.0 572.5,214.7 C571.3,218.4 570.2,222.2 569.2,226.0 C568.1,229.7 567.1,233.5 566.1,237.3 C565.1,241.1 564.2,244.9 563.3,248.8 C562.4,252.6 561.5,256.4 560.7,260.3 C559.9,264.1 559.1,268.0 558.4,271.9 C557.7,275.7 557.0,279.6 556.3,283.5 C555.7,287.4 555.1,291.4 554.5,295.3 C554.0,299.2 553.5,303.2 553.0,307.1 C552.6,311.1 552.1,315.1 551.8,319.1 C551.4,323.1 551.1,327.1 550.8,331.2 C550.5,335.2 550.3,339.3 550.1,343.4 C549.9,347.4 549.8,351.5 549.7,355.6 C549.7,359.7 549.6,363.8 549.7,367.9 C549.8,372.0 549.9,376.1 550.1,380.2 C550.3,384.2 550.6,388.3 551.0,392.3 C551.4,396.3 551.8,400.3 552.4,404.2 C553.0,408.2 553.7,412.1 554.4,415.9 C555.2,419.7 556.1,423.5 557.1,427.2 C558.1,430.9 559.3,434.6 560.5,438.1 C561.8,441.7 563.2,445.2 564.7,448.5 C566.2,451.9 567.9,455.2 569.7,458.4 C571.5,461.6 573.5,464.7 575.6,467.6 C577.7,470.4 579.9,473.1 582.3,475.5 C584.7,477.8 587.1,479.9 589.7,481.6 C592.3,483.4 595.0,484.8 597.7,486.0 C600.5,487.1 604.9,488.2 606.3,488.6" fill="none" stroke="#3a0508" stroke-width="1.0"/><path d="M605.0,143.6 C604.4,145.2 602.5,150.2 601.2,153.4 C600.0,156.7 598.7,159.8 597.4,163.0 C596.1,166.2 594.9,169.3 593.7,172.5 C592.5,175.8 591.3,179.0 590.2,182.4 C589.1,185.8 588.0,189.2 587.0,192.8 C586.0,196.3 585.1,199.9 584.2,203.6 C583.2,207.2 582.4,211.0 581.6,214.7 C580.7,218.4 579.9,222.2 579.2,226.0 C578.4,229.7 577.7,233.5 577.0,237.3 C576.3,241.1 575.6,244.9 574.9,248.8 C574.3,252.6 573.7,256.4 573.1,260.3 C572.5,264.1 572.0,268.0 571.4,271.9 C570.9,275.7 570.4,279.6 570.0,283.5 C569.5,287.4 569.1,291.4 568.7,295.3 C568.3,299.2 567.9,303.2 567.6,307.1 C567.3,311.1 567.0,315.1 566.7,319.1 C566.4,323.1 566.2,327.1 566.0,331.2 C565.8,335.2 565.6,339.3 565.5,343.4 C565.4,347.4 565.3,351.5 565.3,355.6 C565.2,359.7 565.2,363.8 565.3,367.9 C565.3,372.0 565.4,376.1 565.6,380.2 C565.7,384.2 565.9,388.3 566.2,392.3 C566.5,396.3 566.8,400.3 567.3,404.2 C567.7,408.2 568.2,412.1 568.7,415.9 C569.3,419.7 569.9,423.5 570.7,427.2 C571.4,430.9 572.2,434.6 573.2,438.1 C574.1,441.7 575.1,445.2 576.2,448.5 C577.3,451.9 578.5,455.2 579.8,458.4 C581.1,461.6 582.6,464.7 584.1,467.6 C585.6,470.4 587.2,473.1 588.9,475.5 C590.6,477.8 592.4,479.9 594.3,481.6 C596.2,483.4 598.1,484.8 600.1,486.0 C602.1,487.1 605.3,488.2 606.3,488.6" fill="none" stroke="#3a0508" stroke-width="1.0"/><path d="M605.0,143.6 C604.7,145.2 603.6,150.2 602.9,153.4 C602.2,156.7 601.5,159.8 600.8,163.0 C600.1,166.2 599.5,169.3 598.8,172.5 C598.1,175.8 597.5,179.0 596.9,182.4 C596.3,185.8 595.7,189.2 595.2,192.8 C594.6,196.3 594.1,199.9 593.6,203.6 C593.1,207.2 592.6,211.0 592.2,214.7 C591.7,218.4 591.3,222.2 590.9,226.0 C590.5,229.7 590.1,233.5 589.7,237.3 C589.3,241.1 589.0,244.9 588.6,248.8 C588.3,252.6 587.9,256.4 587.6,260.3 C587.3,264.1 587.0,268.0 586.7,271.9 C586.4,275.7 586.2,279.6 585.9,283.5 C585.7,287.4 585.4,291.4 585.2,295.3 C585.0,299.2 584.8,303.2 584.7,307.1 C584.5,311.1 584.3,315.1 584.2,319.1 C584.0,323.1 583.9,327.1 583.8,331.2 C583.7,335.2 583.6,339.3 583.6,343.4 C583.5,347.4 583.5,351.5 583.4,355.6 C583.4,359.7 583.4,363.8 583.5,367.9 C583.5,372.0 583.6,376.1 583.7,380.2 C583.8,384.2 583.9,388.3 584.0,392.3 C584.2,396.3 584.4,400.3 584.6,404.2 C584.9,408.2 585.1,412.1 585.5,415.9 C585.8,419.7 586.1,423.5 586.6,427.2 C587.0,430.9 587.4,434.6 587.9,438.1 C588.5,441.7 589.0,445.2 589.6,448.5 C590.2,451.9 590.9,455.2 591.6,458.4 C592.4,461.6 593.2,464.7 594.0,467.6 C594.9,470.4 595.8,473.1 596.7,475.5 C597.6,477.8 598.6,479.9 599.7,481.6 C600.7,483.4 601.8,484.8 602.9,486.0 C604.0,487.1 605.7,488.2 606.3,488.6" fill="none" stroke="#3a0508" stroke-width="1.0"/></g></g><line x1="571.7" y1="122" x2="585" y2="180.3" stroke="#000" stroke-width="4.5"/><rect x="637.7" y="143.3" width="20.9" height="344.2" fill="#fff" stroke="#000" stroke-width="2.3"/><line x1="712.8" y1="82.2" x2="660" y2="170" stroke="#000" stroke-width="4.5"/></g>
<g id="actuator"><defs><linearGradient id="pinG" x1="0" x2="1" y1="0" y2="0"><stop offset="0" stop-color="#c4c4c4"/><stop offset="0.5" stop-color="#ffffff"/><stop offset="1" stop-color="#d0d0d0"/></linearGradient><linearGradient id="flG" x1="0" x2="0" y1="0" y2="1"><stop offset="0" stop-color="#6e6e6e"/><stop offset="1" stop-color="#a8a8a8"/></linearGradient><linearGradient id="flL" x1="0" x2="0" y1="0" y2="1"><stop offset="0" stop-color="#f4f4f4"/><stop offset="1" stop-color="#b8b8b8"/></linearGradient></defs><line x1="1003.5" y1="182.7" x2="1075" y2="274.8" stroke="#000" stroke-width="4.5"/><g id="act-left"><rect x="1085.0" y="489.7" width="9.0" height="18.0" fill="url(#pinG)"/><rect x="1063.8" y="478.2" width="9.5" height="12.5" fill="url(#flG)"/><rect x="1106.9" y="478.2" width="4.7999999999999545" height="12.5" fill="url(#flL)"/><path d="M1077.3,260.0 H1102.9 Q1107.9,260.0 1107.9,265.0 V490.7 H1072.3 V441.20000000000005 H1083.3 a2.6,2.6 0 0 0 0,-5.2 H1072.3 V419.8 H1083.3 a2.6,2.6 0 0 0 0,-5.2 H1072.3 V398.0 H1083.3 a2.6,2.6 0 0 0 0,-5.2 H1072.3 V376.6 H1083.3 a2.6,2.6 0 0 0 0,-5.2 H1072.3 V355.1 H1083.3 a2.6,2.6 0 0 0 0,-5.2 H1072.3 V333.5 H1083.3 a2.6,2.6 0 0 0 0,-5.2 H1072.3 V312.0 H1083.3 a2.6,2.6 0 0 0 0,-5.2 H1072.3 V290.1 H1083.3 a2.6,2.6 0 0 0 0,-5.2 H1072.3 V265.0 Q1072.3,260.0 1077.3,260.0 Z" fill="#a3a3a3"/><rect x="1063.8" y="489.3" width="47.90000000000009" height="1.4" fill="#5e5e5e"/></g><g id="act-right"><rect x="1213.2" y="487.7" width="8.899999999999864" height="18.30000000000001" fill="url(#pinG)"/><rect x="1196.0" y="477.2" width="4.2999999999999545" height="11.5" fill="url(#flL)"/><rect x="1234.0" y="477.2" width="8.099999999999909" height="11.5" fill="url(#flG)"/><path d="M1204.3,259.0 H1230.0 Q1235.0,259.0 1235.0,264.0 V285.0 H1224.0 a2.6,2.6 0 0 0 0,5.2 H1235.0 V306.2 H1224.0 a2.6,2.6 0 0 0 0,5.2 H1235.0 V327.4 H1224.0 a2.6,2.6 0 0 0 0,5.2 H1235.0 V348.7 H1224.0 a2.6,2.6 0 0 0 0,5.2 H1235.0 V370.0 H1224.0 a2.6,2.6 0 0 0 0,5.2 H1235.0 V391.9 H1224.0 a2.6,2.6 0 0 0 0,5.2 H1235.0 V413.09999999999997 H1224.0 a2.6,2.6 0 0 0 0,5.2 H1235.0 V434.29999999999995 H1224.0 a2.6,2.6 0 0 0 0,5.2 H1235.0 V488.7 H1199.3 V264.0 Q1199.3,259.0 1204.3,259.0 Z" fill="#a3a3a3"/><rect x="1196.0" y="487.3" width="46.09999999999991" height="1.4" fill="#5e5e5e"/></g><line x1="1158.5" y1="96.75" x2="1307.6" y2="74" stroke="#000" stroke-width="4.5"/><rect x="1154.3" y="31.8" width="4.8" height="200" fill="#8c90aa"/><rect x="1154.3" y="231.8" width="4.8" height="296" fill="#a9adc8"/></g>
<g id="robot"><defs>
<linearGradient id="rbL" x1="0" x2="1" y1="0" y2="0"><stop offset="0" stop-color="#b9b9b5"/><stop offset="0.18" stop-color="#d2d2ce"/><stop offset="1" stop-color="#d6d6d2"/></linearGradient>
<linearGradient id="rbR" x1="0" x2="1" y1="0" y2="0"><stop offset="0" stop-color="#c4c4c0"/><stop offset="0.75" stop-color="#cdcdc9"/><stop offset="1" stop-color="#b4b4b0"/></linearGradient>
</defs>
<!-- upper fin: dark face + light edge strip -->
<path d="M1660.3,42.7 L1664,42.7 L1664,109.6 L1662.1,149.4 L1659.5,189.2 L1656,219.7 L1662.1,242.2 L1666.1,263.4 L1671.4,309.6 L1676.7,378.5 L1672,392 L1667.4,415.7 L1664.5,438.9 L1647.7,512.1 L1646.2,512.9 L1643,435.7 L1646,410 L1642.2,258.1 L1636.9,226.3 L1632,194.5 L1630.3,180.7 L1634.5,182.5 L1638.3,188.5 L1647.5,162.6 L1654.2,130.8 L1658.7,83 Z" fill="#686b80"/>
<path d="M1660.6,42.7 L1664,42.7 L1664,109.6 L1662.1,149.4 L1659.5,189.2 L1656,219.7 L1662.1,242.2 L1666.1,263.4 L1662.1,263.4 L1658.4,242.2 L1652.6,219.7 L1656,189.2 L1658.4,149.4 L1660.2,109.6 Z" fill="#9a9eb9"/>
<path d="M1630.3,180.7 L1634.5,182.5 L1638.3,188.5 L1636,194 L1633,187 Z" fill="#8b8fa8"/>
<!-- left body -->
<path d="M1621.5,260.3 L1654.5,257.4 L1661,404 L1623.7,402.6 L1618.6,270 Q1618.4,261 1621.5,260.3 Z" fill="url(#rbL)"/>
<!-- right body -->
<path d="M1663,258.2 L1687,263.6 Q1690,264.3 1690.3,268 L1698,405 L1664,408 Z" fill="url(#rbR)"/>
<!-- flange -->
<path d="M1616.9,404 L1639.6,402.4 L1659.5,399.8 L1671.4,401.1 L1700.8,407.4 L1701.1,424.6 Q1700,430.5 1695.5,432.5 L1679.6,438.1 L1652.5,437.5 L1635,434.1 L1620.7,428 Q1617,425.5 1616.9,421 Z" fill="#c7c7c3"/>
<path d="M1617.2,412 L1639.6,408.6 L1658.1,405.6 L1671.4,405.3 L1687.3,409.6 L1701,414.4 L1701.1,424.6 Q1700,430.5 1695.5,432.5 L1679.6,438.1 L1652.5,437.5 L1635,434.1 L1620.7,428 Q1617,425.5 1616.9,421 Z" fill="#6a6a6a"/>
<!-- pins -->
<rect x="1635.2" y="419.3" width="7.4" height="15.6" rx="2.6" fill="#bdbdba"/>
<rect x="1676.8" y="421.2" width="7.4" height="16.8" rx="2.6" fill="#c3c3c0"/>
<!-- slots -->
<g stroke="#63635f" stroke-width="2.4" stroke-linecap="round">
<path d="M1621.8,276.2L1631.6,274 M1622.2,291.4L1632.2,289.4 M1622.6,305.8L1632.8,304 M1623,320.4L1633.4,318.8 M1623.4,334.8L1634,333.4 M1623.8,349L1634.6,347.6 M1624.2,363.4L1635.2,362.2 M1624.6,377.8L1635.8,376.8"/>
<path d="M1679.8,276.2L1690.4,279.4 M1680.4,291.4L1691,294.6 M1681,306L1691.6,309.2 M1681.6,320.6L1692.2,323.8 M1682.2,335.2L1692.8,338.2 M1682.8,349.8L1693.4,352.8 M1683.4,364.4L1694,367.4 M1684,379.6L1694.6,382.6"/>
</g>
<!-- mid fin between bodies (drawn over bodies) -->
<path d="M1642.2,258.1 L1647,255 L1654.2,256.5 L1662.1,256.5 L1666.1,263.4 L1671.4,309.6 L1676.7,378.5 L1672,392 L1667.4,415.7 L1664.5,438.9 L1647.7,512.1 L1646.2,512.9 L1643,435.7 L1655.7,427.7 L1660.5,380 L1658.1,309.6 L1654.2,262 Z" fill="#5d6079"/>
<path d="M1662.1,256.5 L1666.1,263.4 L1671.4,309.6 L1676.7,378.5 L1672.4,378.5 L1667.4,309.6 L1662.1,263.4 Z" fill="#9599b4"/>
<path d="M1676.7,378.5 L1672,392 L1667.4,415.7 L1664.5,438.9 L1647.7,512.1 L1655,440 L1663,400 L1672.4,378.5 Z" fill="#6d7290"/>
</g>
<g id="text">
<text id="t-lab-tail"><tspan x="14.02" y="87.90" font-size="67.34" textLength="265.19" lengthAdjust="spacingAndGlyphs" font-weight="300">尾鳍结构</tspan></text>
<text id="t-lab-muscle"><tspan x="409.50" y="106.22" font-size="65.38" textLength="197.83" lengthAdjust="spacingAndGlyphs" font-weight="300">鱼肌肉</tspan></text>
<text id="t-lab-bone"><tspan x="632.57" y="62.15" font-size="66.62" textLength="199.72" lengthAdjust="spacingAndGlyphs" font-weight="300">鱼主骨</tspan></text>
<text id="t-lab-pneu1"><tspan x="879.47" y="87.30" font-size="66.80" textLength="266.42" lengthAdjust="spacingAndGlyphs" font-weight="300">气动仿生</tspan></text>
<text id="t-lab-pneu2"><tspan x="945.70" y="161.49" font-size="64.43" textLength="133.69" lengthAdjust="spacingAndGlyphs" font-weight="300">肌肉</tspan></text>
<text id="t-lab-bbone"><tspan x="1327.42" y="88.07" font-size="67.71" textLength="265.78" lengthAdjust="spacingAndGlyphs" font-weight="300">仿生鱼骨</tspan></text>
<text id="t-a1"><tspan x="40.00" y="598.54" font-size="75.77" textLength="21.42" lengthAdjust="spacingAndGlyphs" stroke="#fff" stroke-width="0.6">(</tspan><tspan x="62.36" y="597.10" font-size="67.00" textLength="35.01" lengthAdjust="spacingAndGlyphs" stroke="#fff" stroke-width="0.6">a</tspan><tspan x="97.06" y="598.54" font-size="75.77" textLength="21.42" lengthAdjust="spacingAndGlyphs" stroke="#fff" stroke-width="0.6">)</tspan> <tspan x="145.25" y="597.10" font-size="67.00" textLength="138.23" lengthAdjust="spacingAndGlyphs" stroke="#fff" stroke-width="0.6">BCF</tspan></text>
<text id="t-a2"><tspan x="60.28" y="678.39" font-size="66.07" textLength="199.95" lengthAdjust="spacingAndGlyphs" font-weight="300">模式鱼</tspan></text>
<text id="t-a3"><tspan x="40.00" y="766.34" font-size="75.77" textLength="21.42" lengthAdjust="spacingAndGlyphs" stroke="#fff" stroke-width="0.6">(</tspan><tspan x="62.36" y="764.90" font-size="67.00" textLength="35.01" lengthAdjust="spacingAndGlyphs" stroke="#fff" stroke-width="0.6">a</tspan><tspan x="97.06" y="766.34" font-size="75.77" textLength="21.42" lengthAdjust="spacingAndGlyphs" stroke="#fff" stroke-width="0.6">)</tspan> <tspan x="145.25" y="764.90" font-size="67.00" textLength="138.23" lengthAdjust="spacingAndGlyphs" stroke="#fff" stroke-width="0.6">BCF</tspan></text>
<text id="t-a4"><tspan x="2.13" y="845.00" font-size="67.00" textLength="316.80" lengthAdjust="spacingAndGlyphs" stroke="#fff" stroke-width="0.6">patternfish</tspan></text>
<text id="t-b1"><tspan x="528.70" y="598.54" font-size="75.77" textLength="21.42" lengthAdjust="spacingAndGlyphs" stroke="#fff" stroke-width="0.6">(</tspan><tspan x="553.74" y="597.10" font-size="67.00" textLength="36.56" lengthAdjust="spacingAndGlyphs" stroke="#fff" stroke-width="0.6">b</tspan><tspan x="590.16" y="598.54" font-size="75.77" textLength="21.42" lengthAdjust="spacingAndGlyphs" stroke="#fff" stroke-width="0.6">)</tspan> <tspan x="637.00" y="599.04" font-size="65.49" textLength="132.07" lengthAdjust="spacingAndGlyphs" font-weight="300">解剖</tspan></text>
<text id="t-b2"><tspan x="548.32" y="678.53" font-size="64.27" textLength="198.66" lengthAdjust="spacingAndGlyphs" font-weight="300">示意图</tspan></text>
<text id="t-b3"><tspan x="427.80" y="766.34" font-size="75.77" textLength="21.42" lengthAdjust="spacingAndGlyphs" stroke="#fff" stroke-width="0.6">(</tspan><tspan x="452.63" y="764.90" font-size="67.00" textLength="36.89" lengthAdjust="spacingAndGlyphs" stroke="#fff" stroke-width="0.6">b</tspan><tspan x="489.16" y="766.34" font-size="75.77" textLength="21.42" lengthAdjust="spacingAndGlyphs" stroke="#fff" stroke-width="0.6">)</tspan> <tspan x="537.93" y="764.90" font-size="67.00" textLength="334.74" lengthAdjust="spacingAndGlyphs" stroke="#fff" stroke-width="0.6">Anatomical</tspan></text>
<text id="t-b4"><tspan x="529.41" y="845.00" font-size="67.00" textLength="237.79" lengthAdjust="spacingAndGlyphs" stroke="#fff" stroke-width="0.6">diagram</tspan></text>
<text id="t-c1"><tspan x="1040.90" y="598.54" font-size="75.77" textLength="21.42" lengthAdjust="spacingAndGlyphs" stroke="#fff" stroke-width="0.6">(</tspan><tspan x="1063.12" y="597.10" font-size="67.00" textLength="31.54" lengthAdjust="spacingAndGlyphs" stroke="#fff" stroke-width="0.6">c</tspan><tspan x="1095.16" y="598.54" font-size="75.77" textLength="21.42" lengthAdjust="spacingAndGlyphs" stroke="#fff" stroke-width="0.6">)</tspan> <tspan x="1143.13" y="598.98" font-size="66.22" textLength="131.93" lengthAdjust="spacingAndGlyphs" font-weight="300">仿生</tspan></text>
<text id="t-c2"><tspan x="1024.45" y="678.21" font-size="64.27" textLength="265.63" lengthAdjust="spacingAndGlyphs" font-weight="300">结构组成</tspan></text>
<text id="t-c3"><tspan x="941.80" y="766.34" font-size="75.77" textLength="21.42" lengthAdjust="spacingAndGlyphs" stroke="#fff" stroke-width="0.6">(</tspan><tspan x="964.01" y="764.90" font-size="67.00" textLength="31.67" lengthAdjust="spacingAndGlyphs" stroke="#fff" stroke-width="0.6">c</tspan><tspan x="995.06" y="766.34" font-size="75.77" textLength="21.42" lengthAdjust="spacingAndGlyphs" stroke="#fff" stroke-width="0.6">)</tspan> <tspan x="1042.34" y="764.90" font-size="67.00" textLength="334.06" lengthAdjust="spacingAndGlyphs" stroke="#fff" stroke-width="0.6">Biomimetic</tspan></text>
<text id="t-c4"><tspan x="1023.37" y="845.00" font-size="67.00" textLength="267.65" lengthAdjust="spacingAndGlyphs" stroke="#fff" stroke-width="0.6">structure</tspan></text>
<text id="t-c5"><tspan x="981.02" y="925.30" font-size="67.00" textLength="350.83" lengthAdjust="spacingAndGlyphs" stroke="#fff" stroke-width="0.6">composition</tspan></text>
<text id="t-d1"><tspan x="1480.00" y="598.54" font-size="75.77" textLength="21.42" lengthAdjust="spacingAndGlyphs" stroke="#fff" stroke-width="0.6">(</tspan><tspan x="1502.24" y="597.10" font-size="67.00" textLength="37.15" lengthAdjust="spacingAndGlyphs" stroke="#fff" stroke-width="0.6">d</tspan><tspan x="1541.06" y="598.54" font-size="75.77" textLength="21.42" lengthAdjust="spacingAndGlyphs" stroke="#fff" stroke-width="0.6">)</tspan> <tspan x="1588.30" y="599.01" font-size="65.85" textLength="267.01" lengthAdjust="spacingAndGlyphs" font-weight="300">仿生鱼尾</tspan></text>
<text id="t-d2"><tspan x="1565.68" y="678.15" font-size="64.98" textLength="201.69" lengthAdjust="spacingAndGlyphs" font-weight="300">机器人</tspan></text>
<text id="t-d3"><tspan x="1447.80" y="766.34" font-size="75.77" textLength="21.42" lengthAdjust="spacingAndGlyphs" stroke="#fff" stroke-width="0.6">(</tspan><tspan x="1470.02" y="764.90" font-size="67.00" textLength="37.38" lengthAdjust="spacingAndGlyphs" stroke="#fff" stroke-width="0.6">d</tspan><tspan x="1509.16" y="766.34" font-size="75.77" textLength="21.42" lengthAdjust="spacingAndGlyphs" stroke="#fff" stroke-width="0.6">)</tspan> <tspan x="1556.45" y="764.90" font-size="67.00" textLength="332.23" lengthAdjust="spacingAndGlyphs" stroke="#fff" stroke-width="0.6">Biomimetic</tspan></text>
<text id="t-d4"><tspan x="1465.13" y="845.00" font-size="67.00" textLength="220.92" lengthAdjust="spacingAndGlyphs" stroke="#fff" stroke-width="0.6">fish-tail</tspan> <tspan x="1708.15" y="845.00" font-size="67.00" textLength="156.70" lengthAdjust="spacingAndGlyphs" stroke="#fff" stroke-width="0.6">robot</tspan></text>
</g>
</svg>
</body>
</html>
